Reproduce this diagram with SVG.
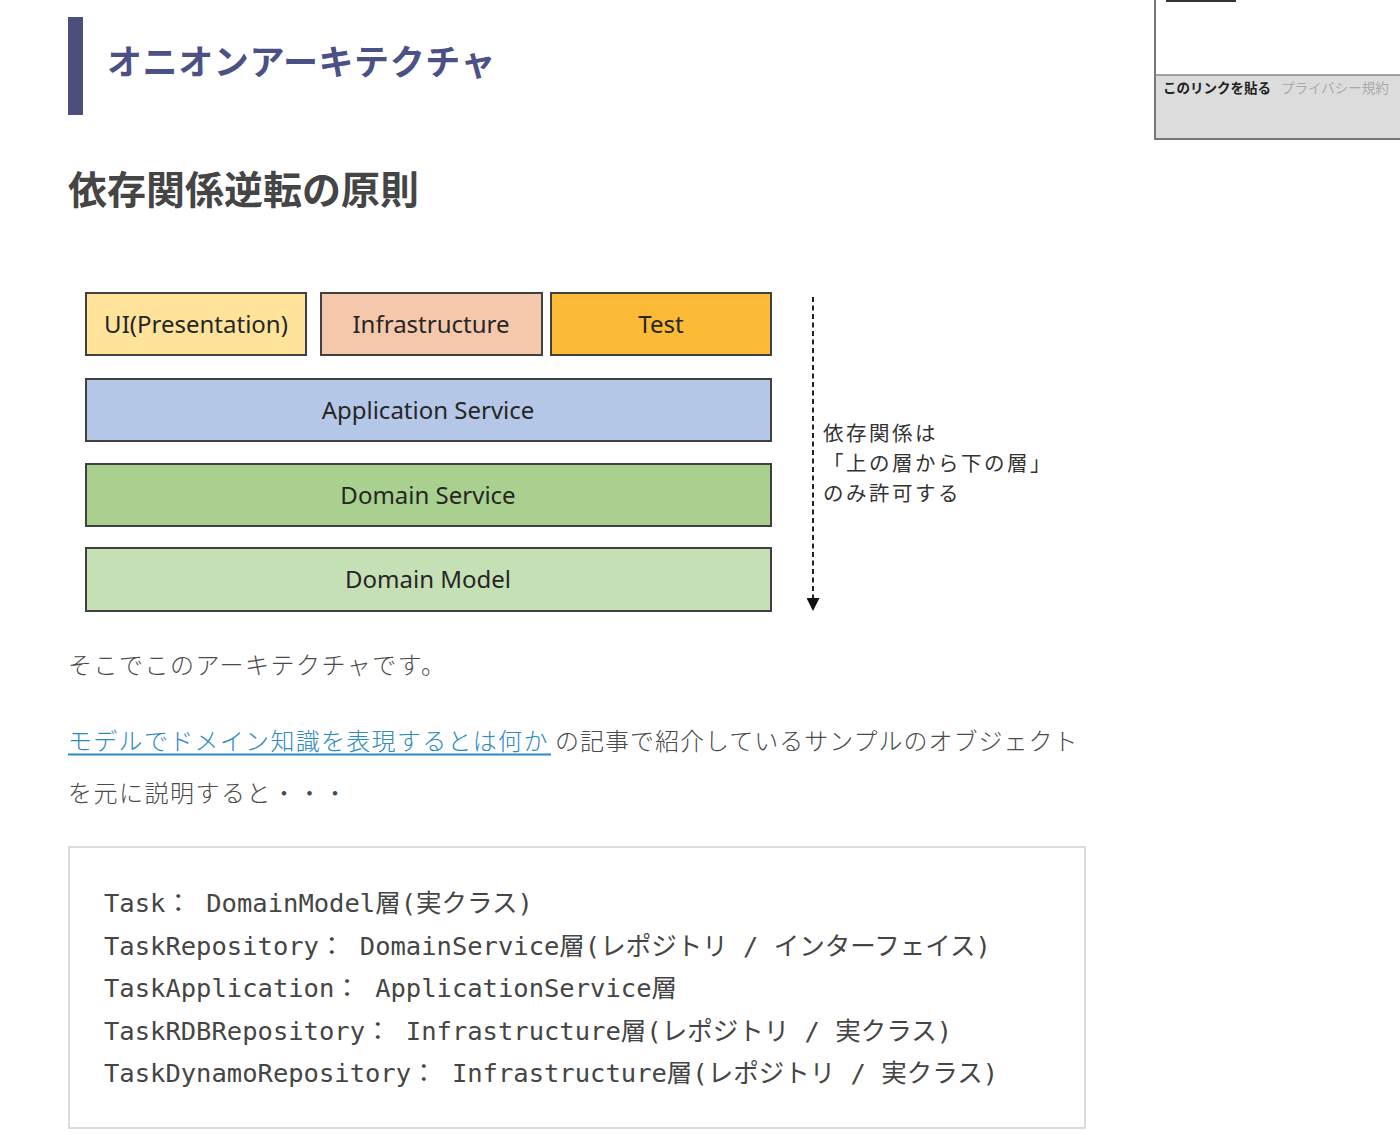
<svg xmlns="http://www.w3.org/2000/svg" width="1400" height="1135" viewBox="0 0 1400 1135">
<defs>
<style>
.jp{font-family:"Noto Sans CJK JP","Noto Sans",sans-serif;}
.box{stroke:#404040;stroke-width:2;}
.lbl{font-family:"Noto Sans","Open Sans","Noto Sans CJK JP",sans-serif;font-size:24px;fill:#262626;text-anchor:middle;}
.para{font-family:"Noto Sans CJK JP",sans-serif;font-size:24px;letter-spacing:1.5px;fill:#4a4a4a;font-weight:300;}
.code{font-family:"DejaVu Sans Mono","Noto Sans CJK JP",monospace;font-size:25.5px;fill:#454545;}
.note{font-family:"Noto Sans CJK JP",sans-serif;font-size:20.5px;letter-spacing:2.5px;fill:#333;}
</style>
<marker id="arr" markerWidth="13" markerHeight="13" refX="13" refY="6.5" orient="auto" markerUnits="userSpaceOnUse" viewBox="0 0 13 13">
<path d="M0,0 L13,6.5 L0,13 z" fill="#111"/>
</marker>
</defs>
<rect width="1400" height="1135" fill="#fff"/>

<g id="widget">
<rect x="1155" y="-2" width="250" height="141" fill="#fff" stroke="#777" stroke-width="2"/>
<rect x="1156" y="75" width="246" height="63" fill="#dcdcdc"/>
<line x1="1155" y1="75" x2="1400" y2="75" stroke="#888" stroke-width="1.5"/>
<rect x="1166" y="0" width="70" height="2" fill="#333"/>
<text x="1163" y="93" class="jp" font-size="13.5" font-weight="bold" fill="#222">このリンクを貼る</text>
<text x="1281" y="93" class="jp" font-size="13.5" fill="#aaa">プライバシー規約</text>
</g>

<g id="heading">
<rect x="68" y="17" width="15" height="98" fill="#4b4f7c"/>
<text x="107" y="75" class="jp" font-size="35" font-weight="bold" letter-spacing="0.6" fill="#4b5184">オニオンアーキテクチャ</text>
</g>
<text id="h2" x="68" y="204" class="jp" font-size="39" font-weight="bold" fill="#454545">依存関係逆転の原則</text>

<g id="node-ui"><rect class="box" x="86" y="293" width="220" height="62" fill="#ffe39b"/><text class="lbl" x="196" y="333">UI(Presentation)</text></g>
<g id="node-infra"><rect class="box" x="321" y="293" width="221" height="62" fill="#f6c8ab"/><text class="lbl" x="431" y="333">Infrastructure</text></g>
<g id="node-test"><rect class="box" x="551" y="293" width="220" height="62" fill="#fbbb36"/><text class="lbl" x="661" y="333">Test</text></g>
<g id="node-app"><rect class="box" x="86" y="379" width="685" height="62" fill="#b4c7e7"/><text class="lbl" x="428" y="419">Application Service</text></g>
<g id="node-ds"><rect class="box" x="86" y="464" width="685" height="62" fill="#a9d08e"/><text class="lbl" x="428" y="504">Domain Service</text></g>
<g id="node-dm"><rect class="box" x="86" y="548" width="685" height="63" fill="#c5e0b4"/><text class="lbl" x="428" y="588">Domain Model</text></g>

<g id="connectors">
<line x1="813" y1="297" x2="813" y2="611" stroke="#222" stroke-width="2" stroke-dasharray="5,3.5" marker-end="url(#arr)"/>
</g>
<g id="note">
<text class="note" x="823" y="441">依存関係は</text>
<text class="note" x="823" y="471">「上の層から下の層」</text>
<text class="note" x="823" y="501">のみ許可する</text>
</g>

<g id="paragraphs">
<text class="para" x="68" y="674">そこでこのアーキテクチャです。</text>
<text class="para" x="68" y="750"><tspan fill="#2c89c5" letter-spacing="1.3">モデルでドメイン知識を表現するとは何か</tspan><tspan x="555" letter-spacing="1">の記事で紹介しているサンプルのオブジェクト</tspan></text>
<line x1="68" y1="754.5" x2="551" y2="754.5" stroke="#2c89c5" stroke-width="2"/>
<text class="para" x="68" y="802">を元に説明すると・・・</text>
</g>

<g id="codebox">
<rect x="69" y="847" width="1016" height="281" fill="#fff" stroke="#dcdcdc" stroke-width="2"/>
<text class="code" x="104" y="912">Task： DomainModel層(実クラス)</text>
<text class="code" x="104" y="954.5">TaskRepository： DomainService層(レポジトリ / インターフェイス)</text>
<text class="code" x="104" y="997">TaskApplication： ApplicationService層</text>
<text class="code" x="104" y="1039.5">TaskRDBRepository： Infrastructure層(レポジトリ / 実クラス)</text>
<text class="code" x="104" y="1082">TaskDynamoRepository： Infrastructure層(レポジトリ / 実クラス)</text>
</g>
</svg>
